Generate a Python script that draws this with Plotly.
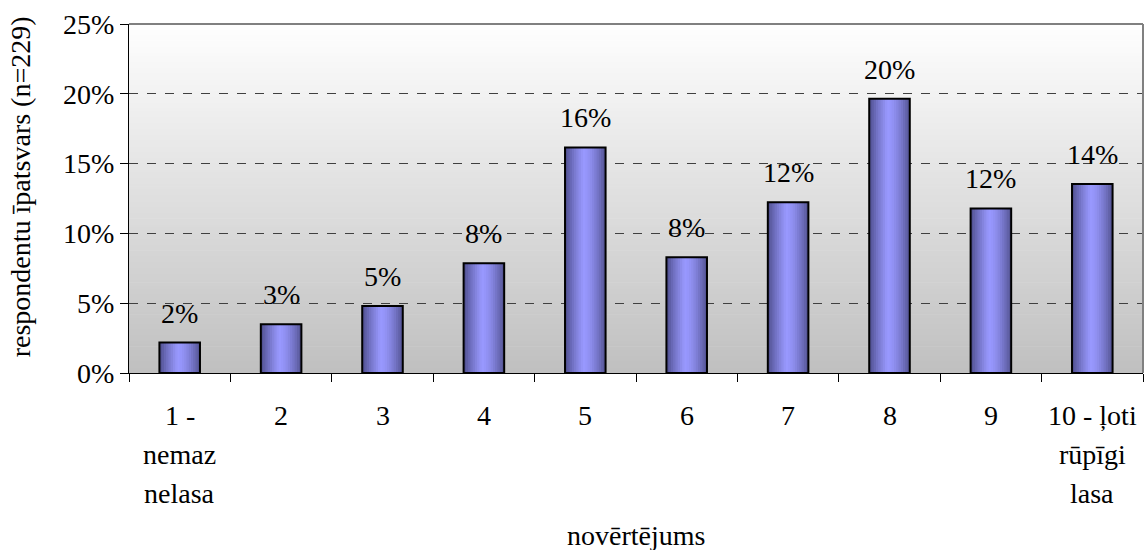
import plotly.graph_objects as go

# Share of respondents (%) by rating, n = 229
categories = ["1", "2", "3", "4", "5", "6", "7", "8", "9", "10"]
category_labels = [
    ["1 -", "nemaz", "nelasa"],
    ["2"], ["3"], ["4"], ["5"], ["6"], ["7"], ["8"], ["9"],
    ["10 - ļoti", "rūpīgi", "lasa"],
]
shares = [2.18, 3.49, 4.80, 7.86, 16.16, 8.30, 12.23, 19.65, 11.79, 13.54]
y_ticks = [0, 5, 10, 15, 20, 25]

FONT = "Liberation Serif"
FS = 28
BAR_W = 0.4
N_SLICES = 18

fig = go.Figure()

# Cylinder-like horizontal shading of the bars, built from narrow overlaid slices
dark_l = (70, 70, 128)
dark_r = (78, 78, 138)
light = (153, 153, 255)


def slice_color(t):
    peak = 0.45
    if t <= peak:
        b = (t / peak) ** 0.8
        d = dark_l
    else:
        b = 1 - ((t - peak) / (1 - peak)) ** 1.6
        d = dark_r
    b = 0.05 + 0.95 * b
    r, g, bl = (int(d[k] + b * (light[k] - d[k])) for k in range(3))
    return f"rgb({r},{g},{bl})"


step = BAR_W / N_SLICES
for i in range(N_SLICES):
    start = -BAR_W / 2 + i * step
    end = min(start + step * 1.6, BAR_W / 2)
    fig.add_trace(go.Bar(
        x=categories, y=shares,
        width=end - start, offset=start,
        marker=dict(color=slice_color((i + 0.5) / N_SLICES), line=dict(width=0)),
        hoverinfo="skip", showlegend=False,
    ))

# Black outline of each bar
fig.add_trace(go.Bar(
    x=categories, y=shares, width=BAR_W, offset=-BAR_W / 2,
    marker=dict(color="rgba(0,0,0,0)", line=dict(color="black", width=2)),
    showlegend=False,
))

# Plot-area background: vertical gradient from light grey to white
shapes = []
n_bands = 120
for k in range(n_bands):
    t = (k + 0.5) / n_bands
    v = int(192 + (255 - 192) * t)
    shapes.append(dict(
        type="rect", xref="paper", yref="paper", layer="below",
        x0=0, x1=1, y0=k / n_bands, y1=(k + 1) / n_bands + 0.002,
        fillcolor=f"rgb({v},{v},{v})", line=dict(width=0),
    ))
# Grey frame on top and right
shapes.append(dict(type="line", xref="paper", yref="paper", x0=0, x1=1, y0=1, y1=1,
                   line=dict(color="#808080", width=2), layer="above"))
shapes.append(dict(type="line", xref="paper", yref="paper", x0=1, x1=1, y0=0, y1=1,
                   line=dict(color="#808080", width=2), layer="above"))

annotations = []
# Value labels above bars (x given as category index)
for i, v in enumerate(shares):
    annotations.append(dict(
        x=i, y=v, xref="x", yref="y", text=f"{v:.0f}%", showarrow=False,
        yanchor="bottom", yshift=12, font=dict(family=FONT, size=FS, color="black"),
    ))
# Category labels (multi-line)
for i, lines in enumerate(category_labels):
    for j, line in enumerate(lines):
        annotations.append(dict(
            x=i, y=0, xref="x", yref="paper", text=line, showarrow=False,
            yanchor="middle", yshift=-(42 + j * 39),
            font=dict(family=FONT, size=FS, color="black"),
        ))
# Axis titles
annotations.append(dict(
    x=0.5, y=0, xref="paper", yref="paper", text="novērtējums", showarrow=False,
    yanchor="middle", yshift=-162, font=dict(family=FONT, size=FS, color="black"),
))
annotations.append(dict(
    x=-0.1075, y=0.535, xref="paper", yref="paper", text="respondentu īpatsvars (n=229)",
    showarrow=False, textangle=-90, xanchor="center", yanchor="middle",
    font=dict(family=FONT, size=FS, color="black"),
))

fig.update_layout(
    width=1146, height=550,
    margin=dict(l=129, r=3, t=24, b=177),
    paper_bgcolor="white", plot_bgcolor="rgba(0,0,0,0)",
    barmode="overlay",
    font=dict(family=FONT, size=FS, color="black"),
    shapes=shapes, annotations=annotations,
    xaxis=dict(
        type="category", showticklabels=False, ticks="outside", tickson="boundaries",
        ticklen=8, tickcolor="black", tickwidth=1,
        showline=True, linecolor="black", linewidth=1, showgrid=False,
        range=[-0.5, 9.5],
    ),
    yaxis=dict(
        range=[0, 25], tickvals=y_ticks, ticktext=[f"{t}%" for t in y_ticks],
        ticks="outside", ticklen=8, tickcolor="black", tickwidth=1,
        showline=True, linecolor="black", linewidth=1,
        showgrid=True, gridcolor="#404040", gridwidth=1, griddash="dash",
        zeroline=False, tickfont=dict(family=FONT, size=FS, color="black"),
    ),
)

fig.write_html("out.html")
